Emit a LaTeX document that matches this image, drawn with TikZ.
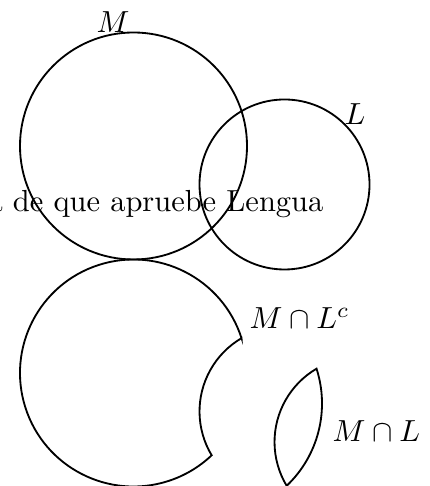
\documentclass[tikz,border=0pt]{standalone}
\begin{document}
\begin{tikzpicture}[x=0.328pt,y=0.328pt,
  outline/.style={draw=black,line width=0.6pt},
  lbl/.style={inner sep=0pt,font=\normalsize}]
\useasboundingbox (0,0) rectangle (430,486);
% centres
\coordinate (Mc) at (133.5,340);
\coordinate (Lc) at (284.5,301.5);
\coordinate (BMc) at (133.5,113);
\coordinate (LMc) at (208.5,82.5);
% top circles
\draw[outline] (Mc) circle[radius=113.5];
\draw[outline] (Lc) circle[radius=85];
% M minus L
\draw[outline] (BMc) ++(17.86:113.5) arc[start angle=17.86,end angle=313.53,radius=113.5]
  arc[start angle=211.02,end angle=120.38,radius=85] -- cycle;
% M cap L
\draw[outline] (LMc) ++(-46.47:113.5) arc[start angle=-46.47,end angle=17.86,radius=113.5]
  arc[start angle=120.38,end angle=211.02,radius=85] -- cycle;
% labels
\node[lbl,anchor=base] (lM) at (113,453) {$M$};
\node[lbl,anchor=base] (lL) at (355,361) {$L$};
\node[lbl,anchor=base east] (ttext) at (324,274.3) {a de que apruebe Lengua};
\node[lbl,anchor=base west] (lMLc) at (249,157) {$M\cap L^c$};
\node[lbl,anchor=base west] (lML) at (332,44.3) {$M\cap L$};
\end{tikzpicture}
\end{document}
